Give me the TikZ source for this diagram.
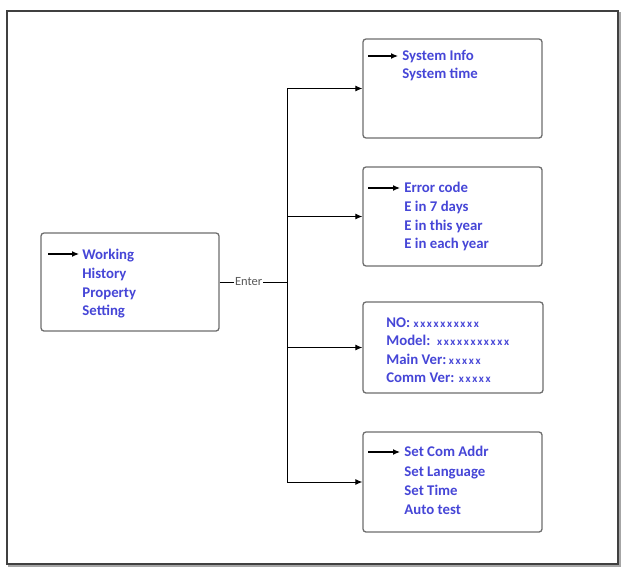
\documentclass[tikz,border=0pt]{standalone}
\usepackage{fontspec}
\setmainfont{Carlito}
\usetikzlibrary{positioning, arrows.meta, calc}
\definecolor{menuBlue}{RGB}{70,70,215}
\definecolor{boxGray}{RGB}{110,110,110}
\newcommand{\xmask}[1]{{\fontsize{11}{12}\selectfont\addfontfeature{LetterSpace=15}#1}}

\begin{document}
\begin{tikzpicture}[x=1pt, y=-1pt, thick,
					menu/.style={draw=boxGray, line width=1.3pt, rectangle, fill=white, rounded corners=3pt, minimum width=179pt, inner sep=0pt},
					item/.style={anchor=mid west, inner sep=0pt, text=menuBlue, font=\fontsize{14.8}{16}\selectfont\bfseries},
					arrow/.style={-{Latex[length=7pt, width=6pt]}, line width=1pt, draw=black},
					cursor/.style={arrow, line width=1.2pt},
					link/.style={line width=1pt, draw=black}]
					\useasboundingbox (0,0) rectangle (621,568);
					\draw[line width=2pt, draw=black!35] (9,13) rectangle (620,566);
					\draw[line width=1.6pt, draw=black!75, fill=white] (7,11) rectangle (618,564);
					% menu boxes
					\node[menu, minimum width=178pt, minimum height=98pt] (main) at (130,282) {};
					\node[menu, minimum height=99pt] (info) at (452.5,88.5) {};
					\node[menu, minimum height=99pt] (errors) at (452.5,216.5) {};
					\node[menu, minimum width=180pt, minimum height=91pt] (version) at (453,347.5) {};
					\node[menu, minimum height=100pt] (setting) at (452.5,482) {};
					% main menu
					\node[item] (working) at (82,257) {Working};
					\node[item] (history) at (82,276) {History};
					\node[item] (property) at (82,295) {Property};
					\node[item] (settingItem) at (82,313.5) {Setting};
					\coordinate (cursorMain) at (48,254);
					\draw[cursor] (cursorMain) -- ([xshift=-3pt]working.west |- cursorMain);
					% system info
					\node[item] (sysinfo) at (402,58) {System Info};
					\node[item] (systime) at (402,76.5) {System time};
					\coordinate (cursorInfo) at (368,56);
					\draw[cursor] (cursorInfo) -- ([xshift=-4pt]sysinfo.west |- cursorInfo);
					% history
					\node[item] (errcode) at (404,190) {Error code};
					\node[item] (sevendays) at (404,209) {E in 7 days};
					\node[item] (thisyear) at (404,228) {E in this year};
					\node[item] (eachyear) at (404,246.5) {E in each year};
					\coordinate (cursorErr) at (368,188);
					\draw[cursor] (cursorErr) -- ([xshift=-4pt]errcode.west |- cursorErr);
					% property
					\node[item] (number) at (386,325) {NO: \xmask{xxxxxxxxxx}};
					\node[item] (model) at (386,343) {Model:\ \ \xmask{xxxxxxxxxxx}};
					\node[item] (mainver) at (386,362) {Main Ver:\,\xmask{xxxxx}};
					\node[item] (commver) at (386,380) {Comm Ver: \xmask{xxxxx}};
					% setting
					\node[item] (comaddr) at (404,454) {Set Com Addr};
					\node[item] (language) at (404,474) {Set Language};
					\node[item] (settime) at (404,493) {Set Time};
					\node[item] (autotest) at (404,512) {Auto test};
					\coordinate (cursorSet) at (368,452);
					\draw[cursor] (cursorSet) -- ([xshift=-4pt]comaddr.west |- cursorSet);
					% enter links
					\coordinate (split) at (287,282);
					\draw[link] (main.east) -- node[pos=0.43, fill=white, inner sep=1pt, text=black!65, font=\fontsize{12.5}{14}\selectfont] (enter) {Enter} (split);
					\draw[link] (split |- info.west) -- (split |- setting.west);
					\draw[arrow] (split |- info.west) -- (info.west);
					\draw[arrow] (split |- errors.west) -- (errors.west);
					\draw[arrow] (split |- version.west) -- (version.west);
					\draw[arrow] (split |- setting.west) -- (setting.west);
				\end{tikzpicture}
\end{document}
